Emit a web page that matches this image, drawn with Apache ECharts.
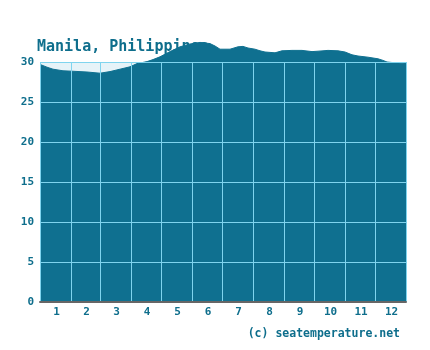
<!DOCTYPE html>
<html>
<head>
<meta charset="utf-8">
<script src="https://cdn.jsdelivr.net/npm/echarts@6/dist/echarts.min.js"></script>
<style>html,body{margin:0;padding:0;background:#fff;}#c{width:430px;height:350px;}</style>
</head>
<body>
<div id="c"></div>
<script>
// Day of (leap) year and sea temperature (°C)
var days = [0, 7, 13, 23, 32, 47, 60, 70, 80, 90, 97, 107, 113, 120, 130, 140, 150, 160, 170, 175,
            180, 190, 198, 203, 208, 215, 220, 225, 235, 242, 252, 262, 272, 278, 288, 298, 305,
            312, 318, 328, 338, 343, 347, 355, 362, 366];
var temps = [29.7, 29.35, 29.1, 28.9, 28.85, 28.75, 28.6, 28.8, 29.1, 29.4, 29.8, 30.05, 30.3, 30.65, 31.3, 31.9, 32.25, 32.45, 32.3, 32.0,
             31.6, 31.6, 31.9, 31.95, 31.75, 31.6, 31.4, 31.25, 31.15, 31.4, 31.45, 31.45, 31.3, 31.35, 31.45, 31.4, 31.25,
             30.9, 30.75, 30.6, 30.4, 30.2, 30.0, 29.9, 29.85, 29.8];
var monthBounds = [0, 31, 60, 91, 121, 152, 182, 213, 244, 274, 305, 335, 366];
var monthLabels = ['1', '2', '3', '4', '5', '6', '7', '8', '9', '10', '11', '12'];
var yTicks = [0, 5, 10, 15, 20, 25, 30];
var titleText = 'Manila, Philippines';
var creditText = '(c) seatemperature.net';

var mids = [];
for (var i = 0; i < monthLabels.length; i++) mids.push((monthBounds[i] + monthBounds[i + 1]) / 2 + 1);
var data = days.map(function (d, i) { return [d, temps[i]]; });

var txt = '#0e6e8c';
var fill = '#0f7090';
var gridCol = '#7fd4ee';
var mono = '"DejaVu Sans Mono", "Liberation Mono", monospace';

var chart = echarts.init(document.getElementById('c'), null, { renderer: 'canvas' });
chart.setOption({
  animation: false,
  title: {
    text: titleText, left: 32, top: 35, z: 1,
    textStyle: { fontFamily: mono, fontSize: 15, fontWeight: 'bold', color: txt }
  },
  grid: {
    left: 40, right: 24, top: 62, bottom: 48, show: true,
    backgroundColor: '#e6f3f8', borderWidth: 0
  },
  xAxis: {
    type: 'value', min: 0, max: 366, z: 5,
    axisLine: { show: true, onZero: false, lineStyle: { color: '#666', width: 2 } },
    axisTick: { show: false, customValues: monthBounds },
    splitLine: { show: true, showMinLine: true, showMaxLine: true, lineStyle: { color: gridCol, width: 1 } },
    axisLabel: {
      customValues: mids, margin: 5,
      fontFamily: mono, fontSize: 11, fontWeight: 'bold', color: txt,
      formatter: function (v) {
        var k = mids.indexOf(v);
        return k >= 0 ? monthLabels[k] : '';
      }
    }
  },
  yAxis: {
    type: 'value', min: 0, max: 30, interval: 5, z: 5,
    axisLine: { show: false },
    axisTick: { show: false },
    splitLine: { show: true, lineStyle: { color: gridCol, width: 1 } },
    axisLabel: {
      margin: 6, fontFamily: mono, fontSize: 11, fontWeight: 'bold', color: txt,
      formatter: function (v) { return yTicks.indexOf(v) >= 0 ? String(v) : ''; }
    }
  },
  series: [{
    type: 'line', data: data, z: 2, clip: false, showSymbol: false, symbol: 'none',
    lineStyle: { color: fill, width: 1 },
    itemStyle: { color: fill },
    areaStyle: { color: fill, opacity: 1 }
  }],
  graphic: [{
    type: 'text', right: 30, top: 328,
    style: { text: creditText, font: 'bold 11.5px ' + mono, fill: txt }
  }]
});
</script>
</body>
</html>
